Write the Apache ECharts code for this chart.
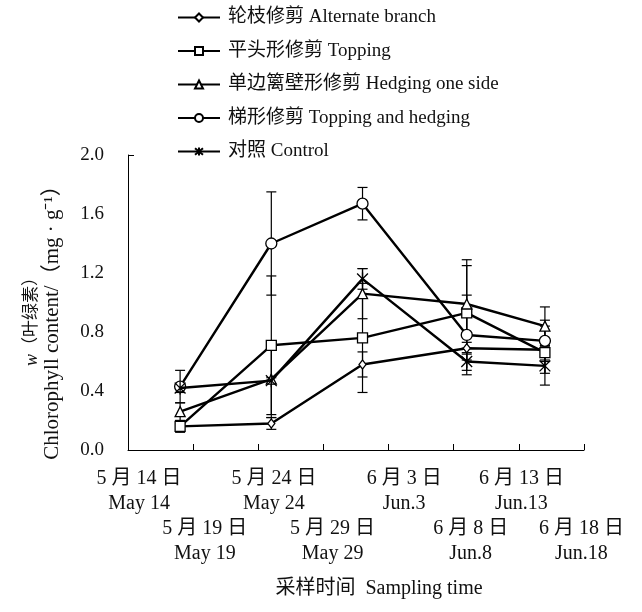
<!DOCTYPE html>
<html>
<head>
<meta charset="utf-8">
<script src="https://cdn.jsdelivr.net/npm/echarts@6/dist/echarts.min.js"></script>
<style>
  html, body { margin: 0; padding: 0; background: #fff; }
  #chart { width: 642px; height: 612px; }
</style>
</head>
<body>
<div id="chart"></div>
<script>
// Sampling days, counted from 14 May
const sampleDays = [4, 11, 18, 26, 32];

// Axis tick labels (every 5 days)
const tickDays = [0, 5, 10, 15, 20, 25, 30, 35];
const tickLabelsCn = ['5 月 14 日', '5 月 19 日', '5 月 24 日', '5 月 29 日', '6 月 3 日', '6 月 8 日', '6 月 13 日', '6 月 18 日'];
const tickLabelsEn = ['May 14', 'May 19', 'May 24', 'May 29', 'Jun.3', 'Jun.8', 'Jun.13', 'Jun.18'];

// Treatment names
const names = [
  '轮枝修剪 Alternate branch',
  '平头形修剪 Topping',
  '单边篱壁形修剪 Hedging one side',
  '梯形修剪 Topping and hedging',
  '对照 Control'
];

// Chlorophyll content (mg/g) and standard deviations
const alternateBranch = [0.16, 0.18, 0.58, 0.69, 0.68];
const alternateBranchSd = [0.02, 0.04, 0.085, 0.04, 0.16];
const topping = [0.16, 0.71, 0.76, 0.93, 0.66];
const toppingSd = [0.04, 0.47, 0.37, 0.32, 0.05];
const hedgingOneSide = [0.26, 0.48, 1.06, 0.99, 0.84];
const hedgingOneSideSd = [0.06, 0.26, 0.17, 0.30, 0.13];
const toppingAndHedging = [0.43, 1.40, 1.67, 0.78, 0.74];
const toppingAndHedgingSd = [0.11, 0.35, 0.11, 0.27, 0.14];
const control = [0.42, 0.47, 1.16, 0.60, 0.57];
const controlSd = [0.03, 0.02, 0.07, 0.06, 0.13];

const valueSets = [alternateBranch, topping, hedgingOneSide, toppingAndHedging, control];
const sdSets = [alternateBranchSd, toppingSd, hedgingOneSideSd, toppingAndHedgingSd, controlSd];

const serif = "'Liberation Serif', 'Times New Roman', 'Noto Sans CJK SC', serif";
const asterisk = 'path://M1,1L11,11M11,1L1,11M6,0L6,12';
const symbols = ['diamond', 'rect', 'triangle', 'circle', asterisk];
const symbolSizes = [[7, 9], 10, 10, 11, 13];

// where each date label sits along the day axis (staggered in two rows)
const labelSpots = [0.85, 5.9, 11.2, 15.7, 21.2, 26.3, 30.2, 34.8];
const upperRow = [0, 2, 4, 6];
const lowerRow = [1, 3, 5, 7];

function labelText(v) {
  let i = 0, best = Infinity;
  labelSpots.forEach((p, k) => { const d = Math.abs(p - v); if (d < best) { best = d; i = k; } });
  return tickLabelsCn[i] + '\n' + tickLabelsEn[i];
}

const chart = echarts.init(document.getElementById('chart'), null, { renderer: 'canvas' });

const series = [];
// error bars drawn first, behind the lines
valueSets.forEach((vals, s) => {
  series.push({
    type: 'custom',
    silent: true,
    z: 1,
    data: vals.map((v, i) => [sampleDays[i], v, sdSets[s][i]]),
    encode: { x: 0, y: 1 },
    renderItem: function (params, api) {
      const x = api.value(0), y = api.value(1), e = api.value(2);
      const top = api.coord([x, y + e]);
      const bot = api.coord([x, y - e]);
      const w = 5;
      const st = { stroke: '#000', lineWidth: 1.2 };
      return {
        type: 'group',
        children: [
          { type: 'line', shape: { x1: top[0], y1: top[1], x2: bot[0], y2: bot[1] }, style: st },
          { type: 'line', shape: { x1: top[0] - w, y1: top[1], x2: top[0] + w, y2: top[1] }, style: st },
          { type: 'line', shape: { x1: bot[0] - w, y1: bot[1], x2: bot[0] + w, y2: bot[1] }, style: st }
        ]
      };
    }
  });
});
valueSets.forEach((vals, s) => {
  series.push({
    name: names[s],
    type: 'line',
    z: 3 + s,
    data: vals.map((v, i) => [sampleDays[i], v]),
    symbol: symbols[s],
    symbolSize: symbolSizes[s],
    symbolKeepAspect: true,
    showAllSymbol: true,
    lineStyle: { color: '#000', width: 2.4 },
    itemStyle: { color: s === 4 ? '#000' : '#fff', borderColor: '#000', borderWidth: 1.3 },
    emphasis: { disabled: true },
    animation: false
  });
});

const dateLabelStyle = {
  showMinLabel: true,
  showMaxLabel: true,
  hideOverlap: false,
  fontFamily: serif,
  fontSize: 20,
  lineHeight: 25,
  color: '#111',
  formatter: labelText
};

chart.setOption({
  animation: false,
  backgroundColor: '#fff',
  legend: {
    data: names,
    orient: 'vertical',
    left: 172,
    top: 3,
    itemWidth: 42,
    itemHeight: 10,
    itemGap: 14.5,
    textStyle: { fontFamily: serif, fontSize: 19, color: '#111', padding: [0, 0, 0, 3] }
  },
  grid: { left: 128, right: 58, top: 155, bottom: 162, containLabel: false },
  xAxis: [{
    type: 'value',
    min: 0,
    max: 35,
    interval: 5,
    axisLine: { lineStyle: { color: '#000', width: 1 } },
    axisTick: { inside: true, length: 6, lineStyle: { color: '#000' } },
    splitLine: { show: false },
    axisLabel: Object.assign({ customValues: upperRow.map(i => labelSpots[i]), margin: 16 }, dateLabelStyle),
    name: '采样时间  Sampling time',
    nameLocation: 'middle',
    nameGap: 129,
    nameTextStyle: { fontFamily: serif, fontSize: 20, color: '#111', padding: [0, 0, 0, 46] }
  }, {
    type: 'value',
    position: 'bottom',
    min: 0,
    max: 35,
    interval: 5,
    axisLine: { show: false },
    axisTick: { show: false },
    splitLine: { show: false },
    axisLabel: Object.assign({ customValues: lowerRow.map(i => labelSpots[i]), margin: 66 }, dateLabelStyle)
  }],
  yAxis: {
    type: 'value',
    min: 0,
    max: 2,
    interval: 0.4,
    axisLine: { show: true, lineStyle: { color: '#000', width: 1 } },
    axisTick: { show: true, inside: true, length: 6, customValues: [2], lineStyle: { color: '#000' } },
    splitLine: { show: false },
    axisLabel: {
      margin: 24,
      fontFamily: serif,
      fontSize: 19,
      color: '#111',
      formatter: v => v.toFixed(1)
    },
    name: '{i|w}{n|（叶绿素）}\n{e|Chlorophyll content/（mg · g⁻¹）}',
    nameLocation: 'middle',
    nameRotate: 90,
    nameGap: 66,
    nameTextStyle: {
      fontFamily: serif,
      fontSize: 19,
      color: '#111',
      lineHeight: 20,
      padding: [0, 30, 0, 0],
      rich: {
        i: { fontFamily: serif, fontStyle: 'italic', fontSize: 18, color: '#111', lineHeight: 20 },
        n: { fontFamily: serif, fontSize: 17, color: '#111', lineHeight: 20 },
        e: { fontFamily: serif, fontSize: 21, color: '#111', lineHeight: 20 }
      }
    }
  },
  series: series
});
</script>
</body>
</html>
